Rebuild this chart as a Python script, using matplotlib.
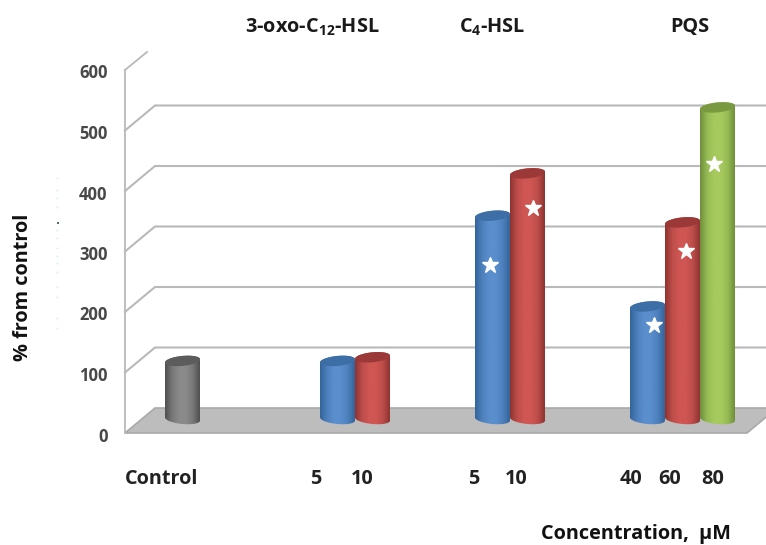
import numpy as np
import matplotlib
matplotlib.use('Agg')
import matplotlib.pyplot as plt
from matplotlib.colors import LinearSegmentedColormap
from matplotlib.lines import Line2D
from matplotlib.patches import Polygon
from matplotlib.transforms import ScaledTranslation

# Values (% from control)
group_names = ['Control', '3-oxo', 'C4', 'PQS']
blue_vals = [None, 96, 336, 186]
red_vals = [None, 102, 406, 325]
green_vals = [None, None, None, 515]
control_vals = [96, None, None, None]
yticks = [0, 100, 200, 300, 400, 500, 600]

# Stars: category position and height on the value axis
star_x = [1.984, 2.261, 3.042, 3.248, 3.429]
star_y = [278, 372, 179, 301, 445]

# Labels under the chart
conc_labels = ['Control', '5', '10', '5', '10', '40', '60', '80']
conc_pos = [162, 316, 362, 474, 516, 631, 670, 713]
header_labels = [r'3-oxo-C$_{12}$-HSL', r'C$_{4}$-HSL', 'PQS']
header_pos = [312, 492, 690]

# faint specks left over in the scan, left of the axis
speck_y = [178, 190, 198, 207, 230, 238, 248, 256, 263, 272, 287, 297, 318, 328]

W, H = 766, 545
plt.rcParams['font.family'] = ['Open Sans', 'DejaVu Sans']
plt.rcParams['mathtext.fontset'] = 'custom'
plt.rcParams['mathtext.rm'] = 'Open Sans:bold'
plt.rcParams['mathtext.bf'] = 'Open Sans:bold'
plt.rcParams['mathtext.default'] = 'bf'

fig = plt.figure(figsize=(W / 100, H / 100), dpi=100)
ax = fig.add_axes([125 / W, (H - 433) / H, 622 / W, 363 / H])

xlim = (-0.371, 3.642)
ylim = (0, 600)
# size of one pixel in data units
px = (xlim[1] - xlim[0]) / 622
py = (ylim[1] - ylim[0]) / 363
depth_x, depth_y = 30 * px, 25 * py

grid_col = '#b9b9b9'
for v in yticks[1:-1]:
    ax.plot([xlim[0], xlim[0] + depth_x, xlim[1] + 5], [v, v + depth_y, v + depth_y],
            color=grid_col, lw=1.5, clip_on=False, zorder=1, solid_joinstyle='miter')
# top of the wall only has the short diagonal
ax.plot([xlim[0], xlim[0] + 22 * px], [600, 600 + 18 * py], color=grid_col, lw=1.3,
        clip_on=False, zorder=1)

# floor
floor = Polygon([(xlim[0], 0), (xlim[0] + depth_x, depth_y), (xlim[1] + depth_x, depth_y), (xlim[1], 0)],
                closed=True, facecolor='#bdbdbd', edgecolor='#a9a9a9', lw=1.2,
                clip_on=False, zorder=2)
ax.add_patch(floor)


def cylinder(x, val, w, cols, cap_col, z):
    base = 14 * py
    top = base + val
    hh = 5 * py
    skew = 1.6 * py
    t = np.linspace(0, np.pi, 40)
    # front half of the bottom, then back up the top side
    bx = x + w / 2 * np.cos(t + np.pi)
    by = base + hh * np.sin(t + np.pi) - skew * np.cos(t + np.pi)
    tx = x + w / 2 * np.cos(t)
    ty = top + hh * np.sin(t) + skew * np.cos(t)
    body = Polygon(np.column_stack([np.r_[bx, tx], np.r_[by, ty]]), closed=True,
                   facecolor='none', edgecolor='none', zorder=z)
    ax.add_patch(body)
    cmap = LinearSegmentedColormap.from_list('c', cols)
    im = ax.imshow(np.linspace(0, 1, 64).reshape(1, -1), cmap=cmap, aspect='auto',
                   extent=[x - w / 2, x + w / 2, base - 2 * hh, top + 2 * hh],
                   interpolation='bilinear', zorder=z)
    im.set_clip_path(body)
    t2 = np.linspace(0, 2 * np.pi, 80)
    cap = Polygon(np.column_stack([x + w / 2 * np.cos(t2),
                                   top + hh * np.sin(t2) + skew * np.cos(t2)]),
                  closed=True, facecolor=cap_col, edgecolor='none', zorder=z + 0.1)
    ax.add_patch(cap)


bar_w = 35 / 155
gray = (['#505050', '#787878', '#8a8a8a', '#8a8a8a', '#787878', '#505050'], '#5c5c5c')
blue = (['#34649b', '#4d80bc', '#5a8ecd', '#5a8ecd', '#4d80bc', '#34649b'], '#3d6ea6')
red = (['#8e3330', '#bd4d4a', '#cf5653', '#cf5653', '#bd4d4a', '#8e3330'], '#9a3937')
green = (['#708f3b', '#96bb54', '#a6ca5e', '#a6ca5e', '#96bb54', '#708f3b'], '#799a40')

z = 3
for i in range(len(group_names)):
    for slot, (vals, style) in enumerate([(control_vals, gray), (blue_vals, blue),
                                          (red_vals, red), (green_vals, green)]):
        if vals[i] is None:
            continue
        pos = slot - 1 if slot > 0 else 0
        cylinder(i + pos * bar_w, vals[i], bar_w, style[0], style[1], z)
        z += 1

ax.plot(star_x, star_y, ls='none', marker='*', ms=12, color='white', mec='white',
        zorder=50, clip_on=False)

ax.set_xlim(xlim)
ax.set_ylim(ylim)
ax.set_xticks([])
ax.set_yticks(yticks)
ax.tick_params(axis='y', length=0, pad=12.5, labelsize=12, labelcolor='#484848')
for lab in ax.get_yticklabels():
    lab.set_fontweight('bold')
    lab.set_transform(lab.get_transform() + ScaledTranslation(0, -1.5 / 100, fig.dpi_scale_trans))
for s in ['top', 'right', 'bottom']:
    ax.spines[s].set_visible(False)
ax.spines['left'].set_color(grid_col)
ax.spines['left'].set_linewidth(1.3)
ax.patch.set_alpha(0)

for lab, p in zip(header_labels, header_pos):
    fig.text(p / W, 1 - 27 / H, lab, ha='center', va='center', fontsize=14.3, fontweight='bold',
             color='#1a1a1a')
for lab, p in zip(conc_labels, conc_pos):
    fig.text(p / W, 1 - 479 / H, lab, ha='center', va='center', fontsize=14.3,
             fontweight='bold', color='#222222')
fig.text(636 / W, 1 - 534 / H, 'Concentration,  µM', ha='center', va='center', fontsize=14.3,
         fontweight='bold', color='#111111')
fig.text(23 / W, 1 - 287 / H, '% from control', ha='center', va='center', rotation=90,
         fontsize=14.3, fontweight='bold', color='#111111')

fig.add_artist(Line2D([57 / W] * len(speck_y), [1 - s / H for s in speck_y], ls='none', marker='s',
                      ms=1.2, mew=0, color='#d5ecf5', transform=fig.transFigure))
fig.add_artist(Line2D([58 / W], [1 - 223 / H], ls='none', marker='s', ms=1.6, mew=0,
                      color='#556677', transform=fig.transFigure))

fig.savefig('out.png', dpi=100)
